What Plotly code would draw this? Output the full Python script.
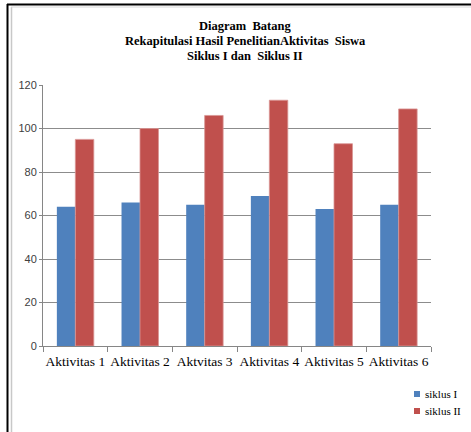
import plotly.graph_objects as go

# Category labels and observation scores per cycle
categories = ["Aktivitas 1", "Aktivitas 2", "Aktvitas 3", "Aktivitas 4", "Aktivitas 5", "Aktivitas 6"]
siklus_1 = [64, 66, 65, 69, 63, 65]
siklus_2 = [95, 100, 106, 113, 93, 109]
series_names = ["siklus I", "siklus II"]
title_lines = [
    "Diagram&nbsp; Batang",
    "Rekapitulasi Hasil PenelitianAktivitas&nbsp; Siswa",
    "Siklus I dan&nbsp; Siklus II",
]
y_ticks = [0, 20, 40, 60, 80, 100, 120]

BLUE = "#4F81BD"
RED = "#C0504D"
W, H = 471, 432
L, R, T, B = 43, 40, 85, 86
PW, PH = W - L - R, H - T - B


def px_x(p):
    return (p - L) / PW


def px_y(p):
    return (H - B - p) / PH


fig = go.Figure()
fig.add_trace(go.Bar(x=categories, y=siklus_1, name=series_names[0],
                     marker=dict(color=BLUE, line=dict(width=0))))
fig.add_trace(go.Bar(x=categories, y=siklus_2, name=series_names[1],
                     marker=dict(color=RED, line=dict(color="#D99694", width=0.8))))

annotations = []
for i, line in enumerate(title_lines):
    annotations.append(dict(
        text="<b>" + line + "</b>", xref="paper", yref="paper",
        x=px_x(245), y=px_y(25.5 + i * 15.5), xanchor="center", yanchor="middle",
        showarrow=False, font=dict(family="Liberation Serif", size=12.5, color="#000"),
    ))

shapes = [
    # outer frame (left and top edges)
    dict(type="line", xref="paper", yref="paper", x0=px_x(7.5), x1=px_x(7.5),
         y0=px_y(4), y1=px_y(H), line=dict(color="#000", width=2)),
    dict(type="line", xref="paper", yref="paper", x0=px_x(7), x1=px_x(W),
         y0=px_y(4.5), y1=px_y(4.5), line=dict(color="#000", width=2)),
    dict(type="line", xref="paper", yref="paper", x0=px_x(11.5), x1=px_x(11.5),
         y0=px_y(7), y1=px_y(H), line=dict(color="#C8C8C8", width=1.5)),
    dict(type="line", xref="paper", yref="paper", x0=px_x(11), x1=px_x(W),
         y0=px_y(7), y1=px_y(7), line=dict(color="#D8D8D8", width=1)),
]

# legend: small square swatch followed by the series name
for i, (name, col) in enumerate(zip(series_names, [BLUE, RED])):
    cy = 394 + i * 17
    shapes.append(dict(type="rect", xref="paper", yref="paper",
                       x0=px_x(414), x1=px_x(420), y0=px_y(cy - 3), y1=px_y(cy + 3),
                       fillcolor=col, line=dict(width=0)))
    annotations.append(dict(
        text=name, xref="paper", yref="paper", x=px_x(423), y=px_y(cy),
        xanchor="left", yanchor="middle", showarrow=False,
        font=dict(family="Liberation Serif", size=11, color="#000"),
    ))

fig.update_layout(
    width=W, height=H,
    margin=dict(l=L, r=R, t=T, b=B, pad=0),
    paper_bgcolor="white", plot_bgcolor="white",
    barmode="group", bargap=0.4286, bargroupgap=0,
    showlegend=False,
    annotations=annotations, shapes=shapes,
    xaxis=dict(
        type="category", showgrid=False, showline=True, linecolor="#868686", linewidth=1,
        ticks="outside", tickson="boundaries", ticklen=5, tickcolor="#868686",
        tickangle=0, automargin=False, ticklabelstandoff=3,
        tickfont=dict(family="Liberation Serif", size=13.5, color="#000"),
    ),
    yaxis=dict(
        range=[0, 120], tickvals=y_ticks, showgrid=True, gridcolor="#8C8C8C", gridwidth=1,
        showline=True, linecolor="#868686", linewidth=1, zeroline=False,
        ticks="outside", ticklen=3, tickcolor="#868686", automargin=False,
        tickfont=dict(family="Liberation Sans", size=11, color="#404040"),
    ),
)

# keep the page flush with the figure, without scrollbars
page_js = ("document.documentElement.style.overflow='hidden';"
           "document.body.style.margin='0';document.body.style.overflow='hidden';")
fig.write_html("out.html", post_script=page_js, config={"displayModeBar": False})
